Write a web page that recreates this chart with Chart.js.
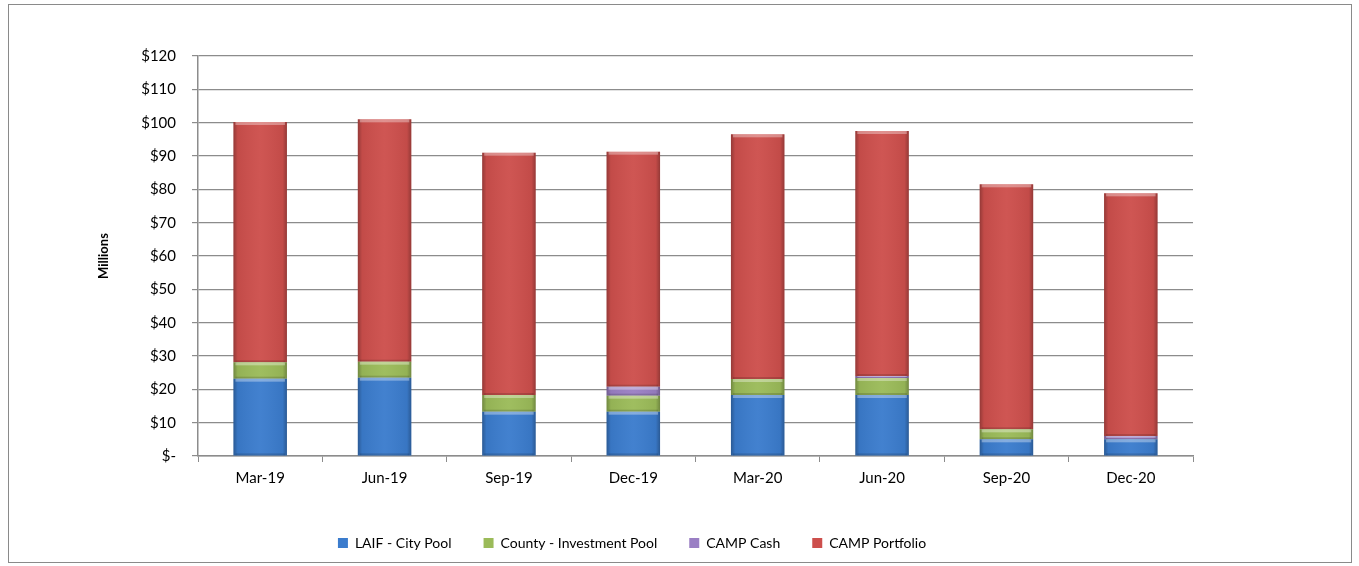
<!DOCTYPE html>
<html><head><meta charset="utf-8">
<script src="https://cdn.jsdelivr.net/npm/chart.js@4.4.1/dist/chart.umd.min.js"></script>
<style>
html,body{margin:0;padding:0;background:#fff;}
#wrap{position:absolute;left:0;top:0;width:1359px;height:566px;}
#frame{position:absolute;left:8px;top:4px;width:1342px;height:557px;border:1px solid #8a8a8a;pointer-events:none;}
</style></head>
<body>
<div id="wrap"><canvas id="c" width="1359" height="566"></canvas></div>
<div id="frame"></div>
<script>
const categories = ["Mar-19","Jun-19","Sep-19","Dec-19","Mar-20","Jun-20","Sep-20","Dec-20"];
const laifCityPool = [23.2, 23.5, 13.3, 13.3, 18.3, 18.3, 5.0, 5.0];
const countyInvestmentPool = [4.9, 4.8, 5.0, 4.8, 4.8, 5.1, 3.0, 0];
const campCash = [0, 0, 0, 2.7, 0, 0.6, 0, 1.0];
const campPortfolio = [72.1, 72.7, 72.7, 70.5, 73.4, 73.5, 73.5, 72.8];
const yTicks = [0,10,20,30,40,50,60,70,80,90,100,110,120];

const font = "Lato, 'Open Sans', sans-serif";
Chart.defaults.font.family = font;
Chart.defaults.color = '#000';

function ds(label, data, color){
  return {label, data, backgroundColor: color, borderWidth: 0,
    barPercentage: 0.43, categoryPercentage: 1.0};
}

// bevel-like shading drawn over each bar element, using the element's own geometry
const bevel = {
  id: 'bevel',
  afterDatasetsDraw(chart) {
    const ctx = chart.ctx;
    chart.data.datasets.forEach((d, di) => {
      const meta = chart.getDatasetMeta(di);
      meta.data.forEach(el => {
        const p = el.getProps(['x','y','base','width'], true);
        const h = p.base - p.y;
        if (h <= 0.5) return;
        const l = p.x - p.width/2;
        ctx.save();
        const g = ctx.createLinearGradient(l, 0, l + p.width, 0);
        g.addColorStop(0, 'rgba(0,0,0,0.28)');
        g.addColorStop(0.08, 'rgba(0,0,0,0.05)');
        g.addColorStop(0.5, 'rgba(255,255,255,0.04)');
        g.addColorStop(0.92, 'rgba(0,0,0,0.05)');
        g.addColorStop(1, 'rgba(0,0,0,0.28)');
        ctx.fillStyle = g;
        ctx.fillRect(l, p.y, p.width, h);
        const th = Math.min(3, h/2);
        ctx.fillStyle = 'rgba(255,255,255,0.35)';
        ctx.fillRect(l+2, p.y, p.width-4, th);
        ctx.fillStyle = 'rgba(0,0,0,0.15)';
        ctx.fillRect(l+2, p.base - Math.min(2, h/3), p.width-4, Math.min(2, h/3));
        ctx.restore();
      });
    });
  }
};

new Chart(document.getElementById('c'), {
  type: 'bar',
  data: {
    labels: categories,
    datasets: [
      ds('LAIF - City Pool', laifCityPool, '#3b7ccd'),
      ds('County - Investment Pool', countyInvestmentPool, '#9bbb59'),
      ds('CAMP Cash', campCash, '#9a7fc4'),
      ds('CAMP Portfolio', campPortfolio, '#cd4f4c')
    ]
  },
  plugins: [bevel],
  options: {
    responsive: false,
    animation: false,
    layout: {padding: {left: 71, right: 166, top: 56, bottom: 6}},
    plugins: {
      legend: {
        position: 'bottom',
        labels: {boxWidth: 10, boxHeight: 10, padding: 32, font: {size: 14, family: font}, color: '#000'}
      },
      tooltip: {enabled: false}
    },
    scales: {
      x: {
        stacked: true,
        grid: {display: true, drawOnChartArea: false, drawTicks: true, tickLength: 6, color: '#8c8c8c', offset: true},
        border: {color: '#8c8c8c', width: 1.5},
        ticks: {font: {size: 15, family: font}, color: '#000', padding: 7, maxRotation: 0},
        afterFit: s => { s.height = 48; }
      },
      y: {
        stacked: true,
        min: 0, max: 120,
        afterBuildTicks: s => { s.ticks = yTicks.map(v => ({value: v})); },
        grid: {color: '#8c8c8c', lineWidth: 1.2, tickLength: 6},
        border: {color: '#8c8c8c', width: 1.5},
        ticks: {font: {size: 15, family: font}, color: '#000', padding: 16,
          callback: v => v === 0 ? '$-' : '$' + v},
        title: {display: true, text: 'Millions', font: {size: 13, weight: 'bold', family: font}, color: '#000', padding: {top: 25, bottom: 4}},
        afterFit: s => { s.width = 127; }
      }
    }
  }
});
</script>
</body></html>
